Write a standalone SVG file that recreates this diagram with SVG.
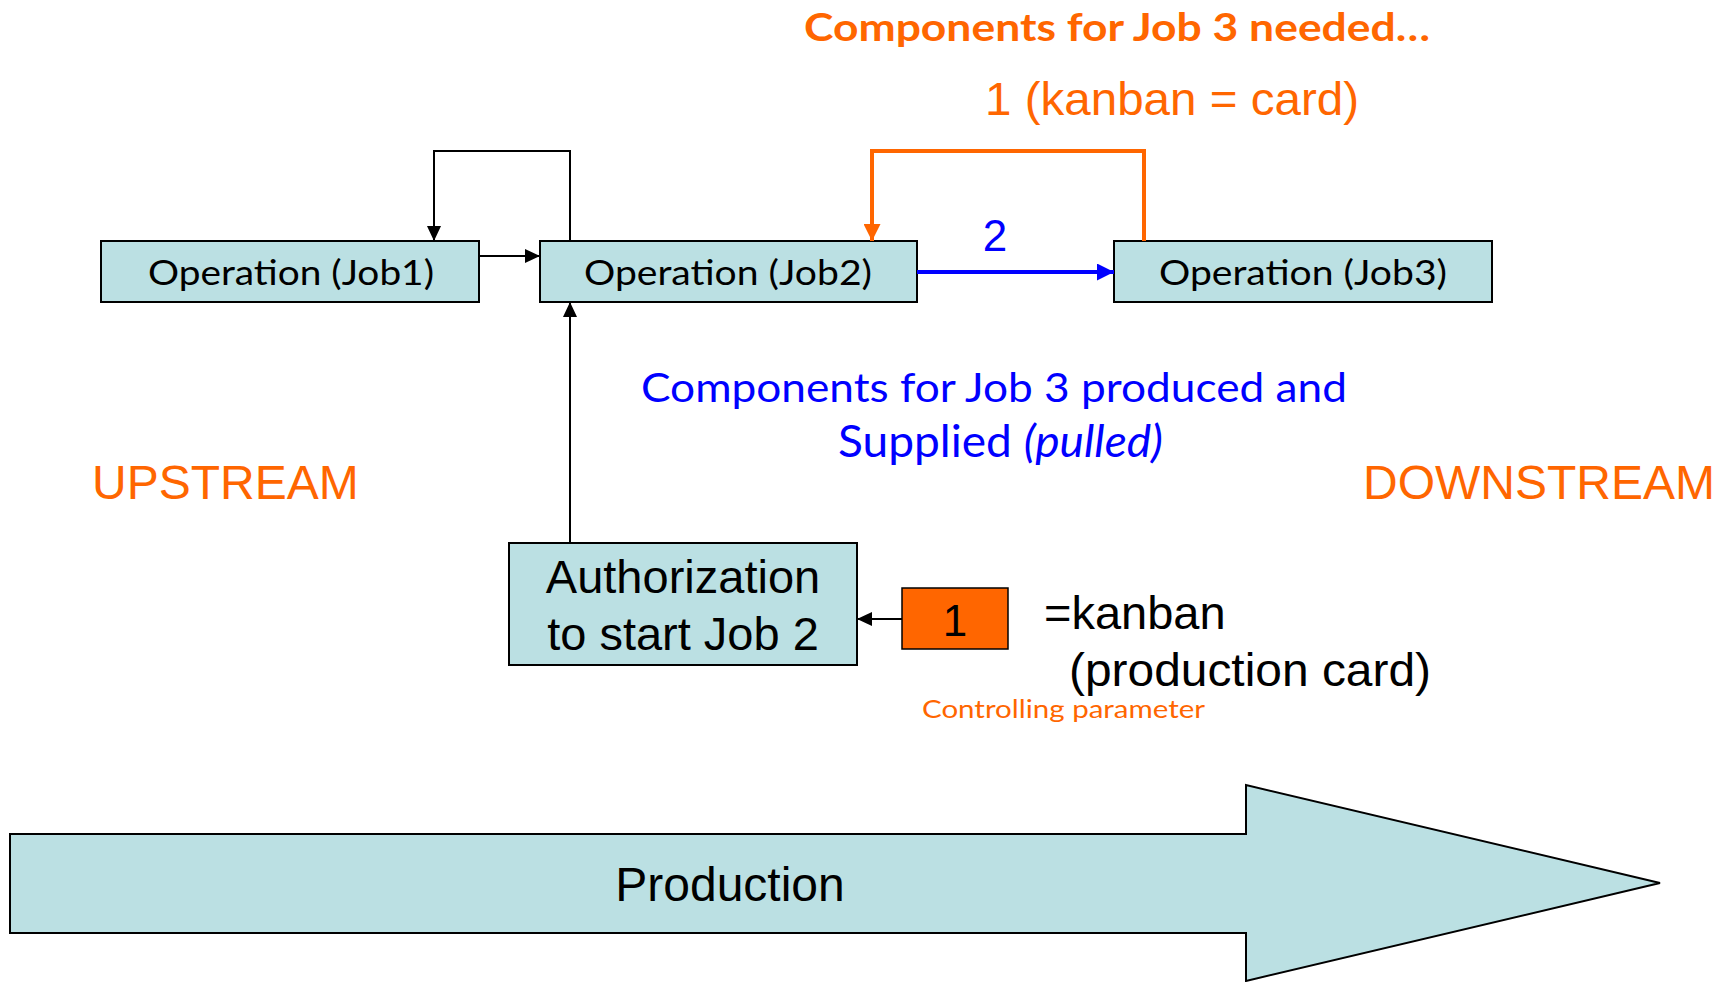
<svg xmlns="http://www.w3.org/2000/svg" width="1727" height="982" viewBox="0 0 1727 982">
<style>
.box{fill:#BBE0E3;stroke:#000;stroke-width:2}
.arial{font-family:"Liberation Sans",Arial,sans-serif}
.cal{font-family:Lato,"Open Sans",sans-serif}
.orange{fill:#FF6600}
.blue{fill:#0000FF}
.blk{fill:#000}
.ln{fill:none;stroke:#000;stroke-width:2}
</style>
<defs>
<marker id="ahb" markerUnits="userSpaceOnUse" markerWidth="15" markerHeight="14" refX="15" refY="7" orient="auto"><path d="M0,0 L15,7 L0,14 z" fill="#000"/></marker>
<marker id="aho" markerUnits="userSpaceOnUse" markerWidth="17" markerHeight="17" refX="17" refY="8.5" orient="auto"><path d="M0,0 L17,8.5 L0,17 z" fill="#FF6600"/></marker>
<marker id="ahbl" markerUnits="userSpaceOnUse" markerWidth="17" markerHeight="17" refX="17" refY="8.5" orient="auto"><path d="M0,0 L17,8.5 L0,17 z" fill="#0000FF"/></marker>
</defs>

<g id="production-arrow">
<polygon points="10,834 1246,834 1246,785 1660,883 1246,981 1246,933 10,933" fill="#BBE0E3" stroke="#000" stroke-width="2"/>
<text x="730" y="901" text-anchor="middle" class="arial blk" font-size="48">Production</text>
</g>

<g id="title">
<text x="804" y="41" class="cal orange" font-size="39" font-weight="bold" textLength="626" lengthAdjust="spacingAndGlyphs">Components for Job 3 needed…</text>
<text x="985" y="115" class="arial orange" font-size="46" textLength="374" lengthAdjust="spacingAndGlyphs">1 (kanban = card)</text>
</g>

<g id="job1">
<rect class="box" x="101" y="241" width="378" height="61"/>
<text x="148" y="285" class="cal blk" font-size="34" textLength="286" lengthAdjust="spacingAndGlyphs">Operation (Job1)</text>
</g>
<g id="job2">
<rect class="box" x="540" y="241" width="377" height="61"/>
<text x="584" y="285" class="cal blk" font-size="34" textLength="288" lengthAdjust="spacingAndGlyphs">Operation (Job2)</text>
</g>
<g id="job3">
<rect class="box" x="1114" y="241" width="378" height="61"/>
<text x="1159" y="285" class="cal blk" font-size="34" textLength="288" lengthAdjust="spacingAndGlyphs">Operation (Job3)</text>
</g>

<g id="authorization">
<rect class="box" x="509" y="543" width="348" height="122"/>
<text x="683" y="593" text-anchor="middle" class="arial blk" font-size="47">Authorization</text>
<text x="683" y="650" text-anchor="middle" class="arial blk" font-size="47">to start Job 2</text>
</g>

<g id="kanban-card">
<rect x="902" y="588" width="106" height="61" fill="#FF6600" stroke="#000" stroke-width="1.5"/>
<text x="955" y="636" text-anchor="middle" class="arial blk" font-size="44">1</text>
</g>

<g id="labels">
<text x="1044" y="629" class="arial blk" font-size="47">=kanban</text>
<text x="1069" y="686" class="arial blk" font-size="47" textLength="362" lengthAdjust="spacingAndGlyphs">(production card)</text>
<text x="922" y="718" class="cal orange" font-size="25" textLength="283" lengthAdjust="spacingAndGlyphs">Controlling parameter</text>
<text x="92" y="499" class="arial orange" font-size="48">UPSTREAM</text>
<text x="1363" y="499" class="arial orange" font-size="48">DOWNSTREAM</text>
<text x="641" y="402" class="cal blue" font-size="41" textLength="706" lengthAdjust="spacingAndGlyphs">Components for Job 3 produced and</text>
<text x="838" y="457" class="cal blue" font-size="44" textLength="325" lengthAdjust="spacingAndGlyphs">Supplied <tspan font-style="italic">(pulled)</tspan></text>
<text x="995" y="251" text-anchor="middle" class="arial blue" font-size="44">2</text>
</g>

<g id="connectors">
<path class="ln" stroke-width="1.6" d="M570,241 L570,151 L434,151 L434,241" marker-end="url(#ahb)"/>
<path class="ln" d="M479,256 L540,256" marker-end="url(#ahb)"/>
<path class="ln" d="M570,543 L570,302" marker-end="url(#ahb)"/>
<path class="ln" d="M902,619 L857,619" marker-end="url(#ahb)"/>
<path fill="none" stroke="#FF6600" stroke-width="4" d="M1144,241 L1144,151 L872,151 L872,241" marker-end="url(#aho)"/>
<path fill="none" stroke="#0000FF" stroke-width="4" d="M917,272 L1114,272" marker-end="url(#ahbl)"/>
</g>
</svg>
